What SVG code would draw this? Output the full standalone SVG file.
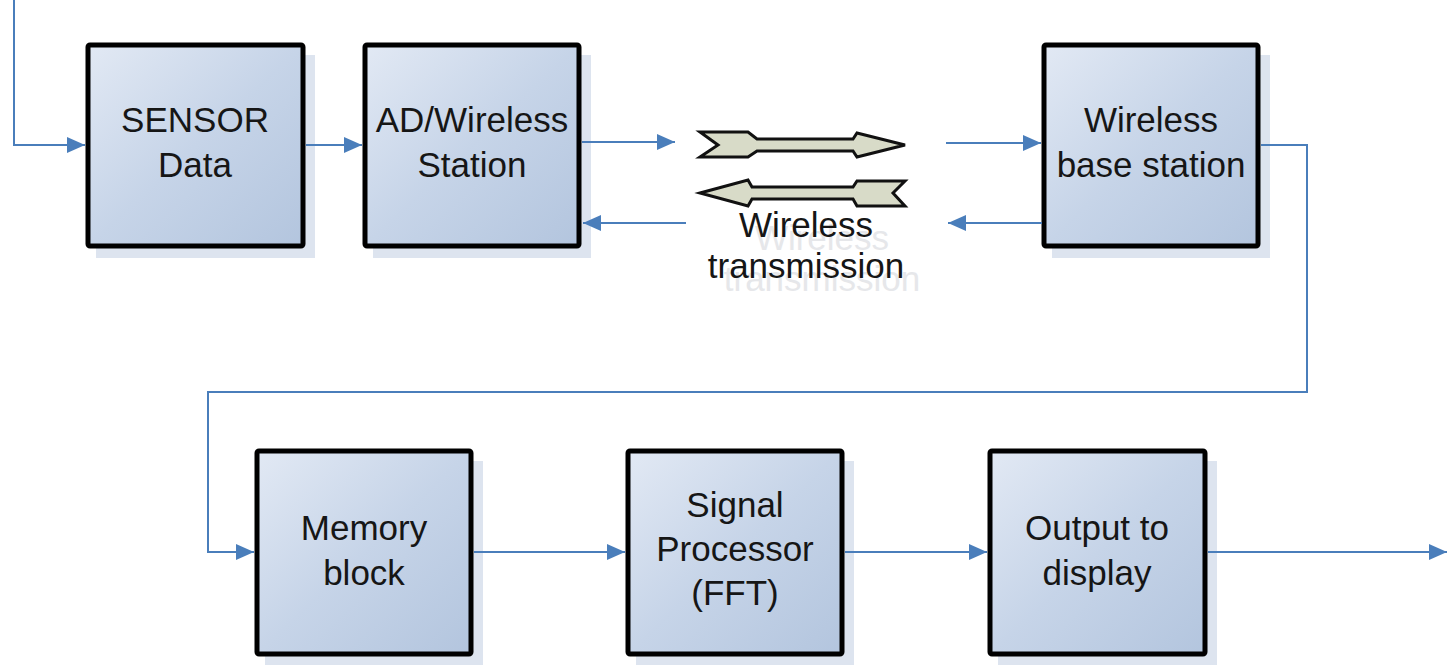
<svg xmlns="http://www.w3.org/2000/svg" width="1447" height="665" viewBox="0 0 1447 665">
<style>
.box{stroke:#000;stroke-width:5;fill:url(#g)}
.shadow{fill:#dde4ef}
.t{font-family:"Liberation Sans",Arial,sans-serif;font-size:35px;fill:#161616;text-anchor:middle}
.ghost{font-family:"Liberation Sans",Arial,sans-serif;font-size:35px;fill:#e6e7ea;text-anchor:middle}
.c{fill:none;stroke:#4a7ebb;stroke-width:2}
.fat{fill:#d8dbc8;stroke:#111;stroke-width:3;stroke-linejoin:miter}
</style>
<defs>
<linearGradient id="g" x1="0" y1="0" x2="1" y2="1">
<stop offset="0" stop-color="#e2e9f4"/>
<stop offset="0.5" stop-color="#c6d4e8"/>
<stop offset="1" stop-color="#b3c5de"/>
</linearGradient>
<marker id="ah" viewBox="0 0 18 16" refX="18" refY="8" markerWidth="18" markerHeight="16" markerUnits="userSpaceOnUse" orient="auto">
<path d="M0,0 L18,8 L0,16 Z" fill="#4a7ebb"/>
</marker>
</defs>
<rect width="1447" height="665" fill="#fff"/>
<g id="sensor">
<rect class="shadow" x="96" y="55" width="219" height="203"/>
<rect class="box" x="88" y="45" width="215" height="201" rx="2"/>
<text class="t" x="195" y="132">SENSOR</text>
<text class="t" x="195" y="177">Data</text>
</g>
<g id="ad-station">
<rect class="shadow" x="373" y="55" width="218" height="203"/>
<rect class="box" x="365" y="45" width="214" height="201" rx="2"/>
<text class="t" x="472" y="132">AD/Wireless</text>
<text class="t" x="472" y="177">Station</text>
</g>
<g id="wireless-transmission">
<path class="fat" d="M700,132 L748,132 L757,139 L853,139 L857,133 L905,145 L857,157 L853,151 L757,151 L748,157 L700,157 L718,145 Z"/>
<path class="fat" d="M700,193 L748,180 L752,187 L853,187 L857,181 L905,181 L893,193 L905,206 L857,206 L853,199 L752,199 L748,206 Z"/>
<text class="ghost" x="822" y="250">Wireless</text>
<text class="ghost" x="822" y="291">transmission</text>
<text class="t" x="806" y="237">Wireless</text>
<text class="t" x="806" y="278">transmission</text>
</g>
<g id="base-station">
<rect class="shadow" x="1052" y="55" width="218" height="203"/>
<rect class="box" x="1044" y="45" width="214" height="201" rx="2"/>
<text class="t" x="1151" y="132">Wireless</text>
<text class="t" x="1151" y="177">base station</text>
</g>
<g id="memory">
<rect class="shadow" x="265" y="461" width="218" height="204"/>
<rect class="box" x="257" y="451" width="214" height="203" rx="2"/>
<text class="t" x="364" y="540">Memory</text>
<text class="t" x="364" y="585">block</text>
</g>
<g id="signal-processor">
<rect class="shadow" x="636" y="461" width="218" height="204"/>
<rect class="box" x="628" y="451" width="214" height="203" rx="2"/>
<text class="t" x="735" y="517">Signal</text>
<text class="t" x="735" y="561">Processor</text>
<text class="t" x="735" y="605">(FFT)</text>
</g>
<g id="output">
<rect class="shadow" x="998" y="461" width="219" height="204"/>
<rect class="box" x="990" y="451" width="215" height="203" rx="2"/>
<text class="t" x="1097" y="540">Output to</text>
<text class="t" x="1097" y="585">display</text>
</g>
<g id="connectors">
<path class="c" d="M14,0 V145 H85" marker-end="url(#ah)"/>
<path class="c" d="M306,145 H362" marker-end="url(#ah)"/>
<path class="c" d="M582,142 H675" marker-end="url(#ah)"/>
<path class="c" d="M686,223 H583" marker-end="url(#ah)"/>
<path class="c" d="M946,143 H1041" marker-end="url(#ah)"/>
<path class="c" d="M1042,223 H948" marker-end="url(#ah)"/>
<path class="c" d="M1261,145 H1307 V392 H208 V552 H254" marker-end="url(#ah)"/>
<path class="c" d="M474,552 H625" marker-end="url(#ah)"/>
<path class="c" d="M845,552 H987" marker-end="url(#ah)"/>
<path class="c" d="M1208,552 H1447" marker-end="url(#ah)"/>
</g>
</svg>
